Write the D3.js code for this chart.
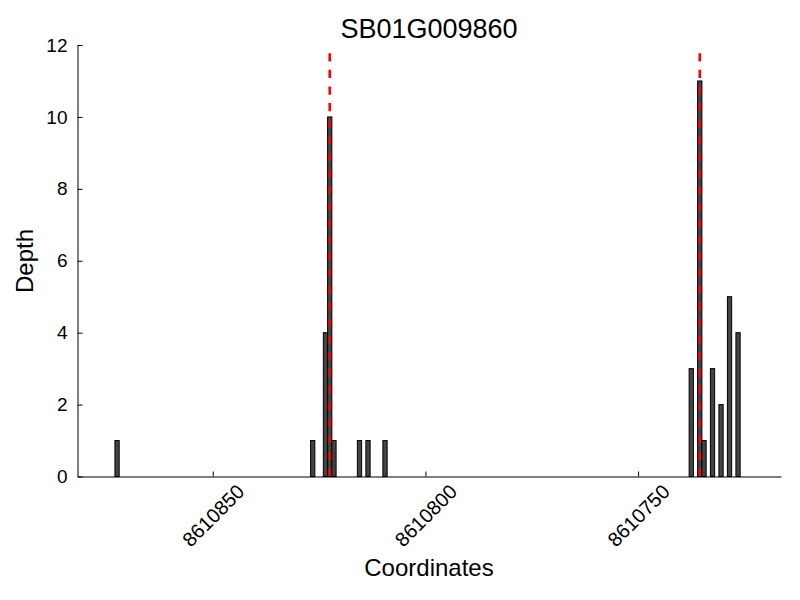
<!DOCTYPE html>
<html>
<head>
<meta charset="utf-8">
<script src="https://d3js.org/d3.v7.min.js"></script>
<style>
  body { margin: 0; background: #fff; }
  text { font-family: "Liberation Sans", Arial, sans-serif; fill: #000; }
</style>
</head>
<body>
<svg id="chart" width="800" height="600"></svg>
<script>
// ---- data ----
const title = "SB01G009860";
const positions = [8610872, 8610826, 8610823, 8610822, 8610821, 8610815, 8610813, 8610809,
                   8610737, 8610735, 8610734, 8610732, 8610730, 8610728, 8610726];
const depths    = [1, 1, 4, 10, 1, 1, 1, 1,
                   3, 11, 1, 3, 2, 5, 4];
const markers   = [8610822, 8610735];
const xTicks    = [8610850, 8610800, 8610750];
const yTicks    = [0, 2, 4, 6, 8, 10, 12];
const xDomain   = [8610881.8, 8610716.4];
const yDomain   = [0, 12];

// ---- layout ----
const svg = d3.select("#chart");
const L = 77.5, R = 781, T = 45, B = 476.5;
const x = d3.scaleLinear().domain(xDomain).range([L, R]);
const y = d3.scaleLinear().domain(yDomain).range([B, T]);

// bars (each spans one coordinate unit)
svg.append("g").selectAll("rect")
  .data(positions.map((p, i) => ({p, d: depths[i]})))
  .join("rect")
  .attr("x", d => x(d.p + 1))
  .attr("width", d => x(d.p) - x(d.p + 1))
  .attr("y", d => y(d.d))
  .attr("height", d => y(0) - y(d.d))
  .attr("fill", "#444444")
  .attr("stroke", "#000")
  .attr("stroke-width", 1);

// red dashed markers
svg.append("g").selectAll("line")
  .data(markers)
  .join("line")
  .attr("x1", d => x(d + 0.5)).attr("x2", d => x(d + 0.5))
  .attr("y1", y(0)).attr("y2", y(12))
  .attr("stroke", "#ff0000")
  .attr("stroke-width", 2.6)
  .attr("stroke-dasharray", "8.3,8.3");

// axes (ticks pointing inward)
const xAxis = d3.axisBottom(x).tickValues(xTicks).tickSizeInner(-5).tickSizeOuter(0).tickFormat(d3.format("d"));
const gx = svg.append("g").attr("transform", `translate(0,${B})`).call(xAxis);
gx.select(".domain").attr("stroke", "#000").attr("stroke-width", 1);
gx.selectAll(".tick line").attr("stroke", "#000");
gx.selectAll(".tick text")
  .attr("font-size", 20)
  .attr("font-family", "Liberation Sans, Arial, sans-serif")
  .attr("text-anchor", "middle")
  .attr("dy", null)
  .attr("y", 0)
  .attr("dominant-baseline", "central")
  .attr("transform", "translate(0,39) rotate(-45)");

const yAxis = d3.axisLeft(y).tickValues(yTicks).tickSizeInner(-5).tickSizeOuter(0).tickFormat(d3.format("d"));
const gy = svg.append("g").attr("transform", `translate(${L},0)`).call(yAxis);
gy.select(".domain").attr("stroke", "#000").attr("stroke-width", 1);
gy.selectAll(".tick line").attr("stroke", "#000");
gy.selectAll(".tick text")
  .attr("font-size", 19)
  .attr("font-family", "Liberation Sans, Arial, sans-serif")
  .attr("x", -10);

// titles
svg.append("text").attr("x", 429).attr("y", 38).attr("text-anchor", "middle")
  .attr("font-size", 27).text(title);
svg.append("text").attr("x", 429).attr("y", 576).attr("text-anchor", "middle")
  .attr("font-size", 24).text("Coordinates");
svg.append("text").attr("transform", "translate(33,261) rotate(-90)").attr("text-anchor", "middle")
  .attr("font-size", 24).text("Depth");
</script>
</body>
</html>
